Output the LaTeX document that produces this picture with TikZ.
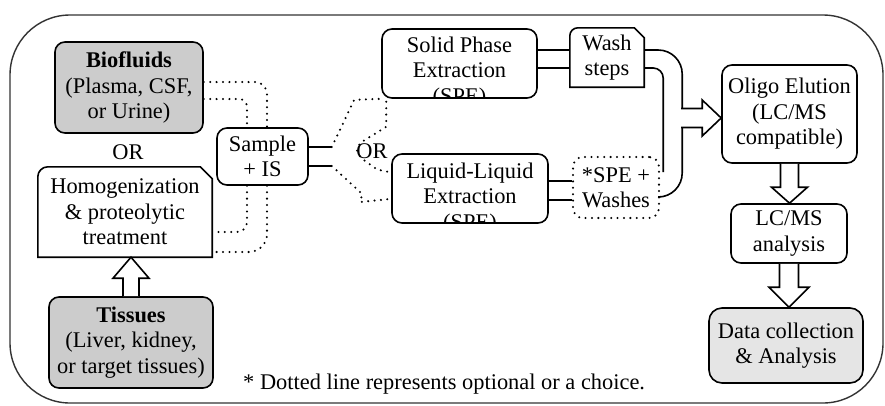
\documentclass[tikz,border=0pt]{standalone}
\usepackage{fontspec}
\setmainfont{Liberation Serif}
\usetikzlibrary{calc}
\definecolor{boxgray}{gray}{0.80}
\definecolor{datagray}{gray}{0.90}
\begin{document}
\begin{tikzpicture}[x=1pt,y=-1pt,
  txt/.style={font=\fontsize{22.4}{25.5}\selectfont, align=center, inner sep=0pt},
  box/.style={txt, draw, line width=1.6pt, rounded corners=10pt},
  graybox/.style={box, fill=boxgray},
  dotline/.style={line width=2.3pt, line cap=round, dash pattern=on 0pt off 6.4pt},
  conn/.style={line width=1.6pt},
  harrow/.style={draw, line width=1.6pt, fill=white, line join=miter}
]
\useasboundingbox (0,0) rectangle (885,405);
% outer frame
\draw[line width=1.4pt, black!80, rounded corners=60pt] (10,15) rectangle (883,403);

% nodes
\node[graybox, minimum width=148pt, minimum height=91pt] (bio) at (129,87.5) {\textbf{Biofluids}\\(Plasma, CSF,\\or Urine)};
\node[txt] (or1) at (128,152) {OR};
\node[txt, minimum width=174pt, minimum height=90pt] (homog) at (125,212) {Homogenization\\\& proteolytic\\treatment};
\draw[line width=1.6pt] (homog.south west) [rounded corners=10pt] -- (homog.north west) [sharp corners] -- ($(homog.north east)+(-12,0)$) -- ($(homog.north east)+(0,12)$) -- (homog.south east) -- cycle;
\node[graybox, minimum width=164pt, minimum height=91pt] (tis) at (131,342.5) {\textbf{Tissues}\\(Liver, kidney,\\or target tissues)};
\node[box, minimum width=91pt, minimum height=57pt] (sample) at (262.5,156.5) {Sample\\+ IS};
\node[txt] (or2) at (372,151) {OR};

\node[box, minimum width=155pt, minimum height=69pt] (spe) at (459.5,63.5) {};
\begin{scope}
\clip[rounded corners=10pt] (spe.south west) rectangle (spe.north east);
\node[txt, anchor=north] (spetxt) at ($(spe.north)+(0,8.5)$) {Solid Phase\\Extraction\\(SPE)};
\end{scope}
\node[box, minimum width=156pt, minimum height=69pt] (lle) at (470,188.5) {};
\begin{scope}
\clip[rounded corners=10pt] (lle.south west) rectangle (lle.north east);
\node[txt, anchor=north] (lletxt) at ($(lle.north)+(0,9.5)$) {Liquid-Liquid\\Extraction\\(SPE)};
\end{scope}

\node[txt, minimum width=74pt, minimum height=59pt] (wash) at (607,57.5) {Wash\\steps};
\draw[line width=1.6pt] (wash.south west) [rounded corners=8pt] -- (wash.north west) [sharp corners] -- ($(wash.north east)+(-10,0)$) -- ($(wash.north east)+(0,10)$) -- (wash.south east) -- cycle;
\node[txt, draw, dotline, rounded corners=10pt, minimum width=86pt, minimum height=61pt] (spew) at (616,187.5) {*SPE +\\Washes};

\node[box, minimum width=135pt, minimum height=98pt] (oligo) at (789.5,114) {Oligo Elution\\(LC/MS\\compatible)};
\node[box, minimum width=116pt, minimum height=59pt] (lcms) at (789,233.5) {LC/MS\\analysis};
\node[box, fill=datagray, rounded corners=13pt, minimum width=154pt, minimum height=75pt] (data) at (786,345.5) {Data collection\\\& Analysis};

\node[txt, anchor=base west] (note) at (243,389) {* Dotted line represents optional or a choice.};

% Biofluids -> Sample
\draw[dotline, rounded corners=12pt] ($(bio.east)+(0,-5.5)$) -| ($(sample.north)+(4.5,0)$);
\draw[dotline, rounded corners=8pt] ($(bio.east)+(0,11.5)$) -| ($(sample.north)+(-15.5,0)$);
% Sample -> Homogenization
\draw[dotline, rounded corners=10pt] ($(sample.south)+(-15.5,0)$) |- ($(homog.east)+(0,20)$);
\draw[dotline, rounded corners=18pt] ($(sample.south)+(4.5,0)$) |- ($(homog.east)+(0,40)$);

% Sample outputs
\coordinate (s1) at ($(sample.east)+(23,-9.5)$);
\coordinate (s2) at ($(sample.east)+(23,9.5)$);
\draw[conn] ($(sample.east)+(0,-9.5)$) -- (s1);
\draw[conn] ($(sample.east)+(0,9.5)$) -- (s2);
\draw[dotline] (s1) -- ($(spe.south west)+(-27,1)$) -- (spe.south west);
\draw[dotline] ($(spe.south west)+(5,3)$) -- ($(spe.south west)+(5,28)$) -- ($(or2)+(-12,-8)$) -- ($(or2)+(-15,0)$) -- ($(or2)+(-11,7)$) -- ($(lle.west)+(-14,-19)$) -- ($(lle.west)+(0,-16)$);
\draw[dotline] (s2) -- ($(lle.west)+(-29,5.5)$) -- ($(lle.west)+(-31,13.5)$) -- ($(lle.west)+(-1,10.5)$);

% SPE -> Wash
\draw[conn] ($(spe.east)+(0,-13.5)$) -- ($(wash.west)+(0,-7.5)$);
\draw[conn] ($(spe.east)+(0,4.5)$) -- ($(wash.west)+(0,10.5)$);
% LLE -> SPE+Washes
\draw[conn] ($(lle.east)+(0,-7.5)$) -- ($(spew.west)+(0,-6.5)$);
\draw[conn] ($(lle.east)+(0,11.5)$) -- ($(spew.west)+(0,12.5)$);
% Wash -> merge
\draw[conn, rounded corners=10pt] ($(wash.east)+(0,10.5)$) -- ++(19,0) -- ++(0,104);
\draw[conn, rounded corners=24pt] ($(wash.east)+(0,-7.5)$) -- ++(38,0) |- ($(spew.east)+(0,9.5)$);

% hollow arrows
\coordinate (rt) at ($(oligo.west)+(0,4)$);
\draw[harrow] ($(rt)+(-40,-9.5)$) -- ($(rt)+(-19,-9.5)$) -- ($(rt)+(-19,-18)$) -- (rt) -- ($(rt)+(-19,18)$) -- ($(rt)+(-19,9.5)$) -- ($(rt)+(-40,9.5)$);

\coordinate (d1) at (oligo.south |- lcms.north);
\draw[harrow] ($(oligo.south)+(-9,0)$) -- ($(d1)+(-9,-16)$) -- ($(d1)+(-18,-16)$) -- (d1) -- ($(d1)+(18,-16)$) -- ($(d1)+(9,-16)$) -- ($(oligo.south)+(9,0)$);

\coordinate (d2) at (lcms.south |- data.north);
\draw[harrow] ($(lcms.south)+(-9.5,0)$) -- ($(d2)+(-9.5,-20)$) -- ($(d2)+(-20,-20)$) -- (d2) -- ($(d2)+(20,-20)$) -- ($(d2)+(9.5,-20)$) -- ($(lcms.south)+(9.5,0)$);

\coordinate (u1) at (tis.north |- homog.south);
\draw[harrow] ($(tis.north)+(-8,0)$) -- ($(u1)+(-8,21)$) -- ($(u1)+(-18,21)$) -- (u1) -- ($(u1)+(18,21)$) -- ($(u1)+(8,21)$) -- ($(tis.north)+(8,0)$);
\end{tikzpicture}
\end{document}
